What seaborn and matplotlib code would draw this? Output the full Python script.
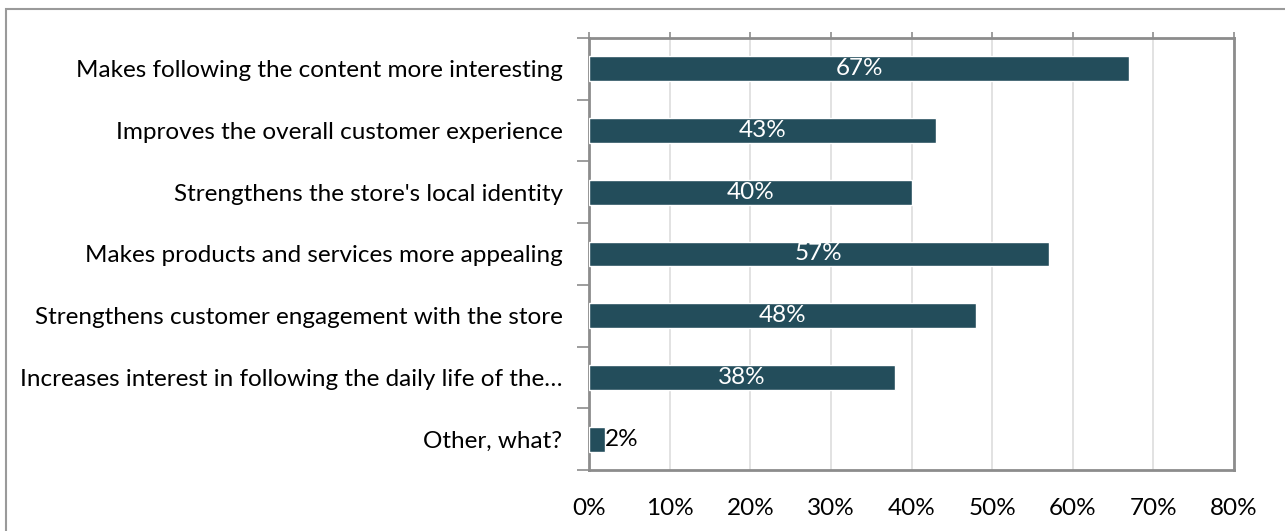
import matplotlib
matplotlib.use("Agg")
import matplotlib.pyplot as plt
import matplotlib.patches as mpatches
import seaborn as sns
import pandas as pd
import numpy as np

categories = [
    "Makes following the content more interesting",
    "Improves the overall customer experience",
    "Strengthens the store's local identity",
    "Makes products and services more appealing",
    "Strengthens customer engagement with the store",
    "Increases interest in following the daily life of the…",
    "Other, what?",
]
values = [67, 43, 40, 57, 48, 38, 2]
x_ticks = [0, 10, 20, 30, 40, 50, 60, 70, 80]
x_tick_labels = [f"{t}%" for t in x_ticks]

sns.set_theme(style="white")
plt.rcParams["font.family"] = ["Lato", "DejaVu Sans"]

bar_color = "#234D5B"
spine_color = "#8C8C8C"
grid_color = "#DDDDDD"
fs = 17.5

df = pd.DataFrame({"category": categories, "value": values})

fig = plt.figure(figsize=(12.85, 5.31), dpi=100)
W, H = 1285, 531
ax = fig.add_axes([589 / W, 1 - 470 / H, (1234 - 589) / W, (470 - 38) / H])

sns.barplot(data=df, x="value", y="category", orient="h", color=bar_color,
            width=0.405, saturation=1, ax=ax, zorder=3)

ax.set_xlim(0, 80)
ax.set_ylim(len(categories) - 0.5, -0.5)
ax.set_xlabel("")
ax.set_ylabel("")

ax.set_xticks(x_ticks)
ax.set_xticklabels(x_tick_labels, fontsize=fs, color="#000000")
ax.tick_params(axis="x", which="major", top=True, bottom=False,
               labeltop=False, labelbottom=True, direction="out",
               length=4, width=1.2, color=spine_color, pad=16)

ax.set_yticks(range(len(categories)))
ax.set_yticklabels(categories, fontsize=fs, color="#000000")
ax.set_yticks(np.arange(-0.5, len(categories), 1.0), minor=True)
ax.tick_params(axis="y", which="major", length=0, pad=19)
ax.tick_params(axis="y", which="minor", length=9, width=1.2,
               color=spine_color, left=True)

ax.xaxis.grid(True, color=grid_color, linewidth=1.2, zorder=0)
ax.set_axisbelow(True)

for side in ["left", "right", "top", "bottom"]:
    ax.spines[side].set_visible(True)
    ax.spines[side].set_color(spine_color)
    ax.spines[side].set_linewidth(2)

container = ax.containers[0]
inside = [f"{v}%" if v >= 10 else "" for v in values]
outside = [f"{v}%" if v < 10 else "" for v in values]
ax.bar_label(container, labels=inside, label_type="center",
             color="white", fontsize=fs)
ax.bar_label(container, labels=outside, label_type="edge",
             color="black", fontsize=fs, padding=0)

# outer chart border
fig.patches.append(mpatches.Rectangle((6 / W, -0.1), 1.2, 1 - 9 / H + 0.1,
                                      transform=fig.transFigure, fill=False,
                                      edgecolor="#9A9A9A", linewidth=1.5))

fig.savefig("out.png", dpi=100)
